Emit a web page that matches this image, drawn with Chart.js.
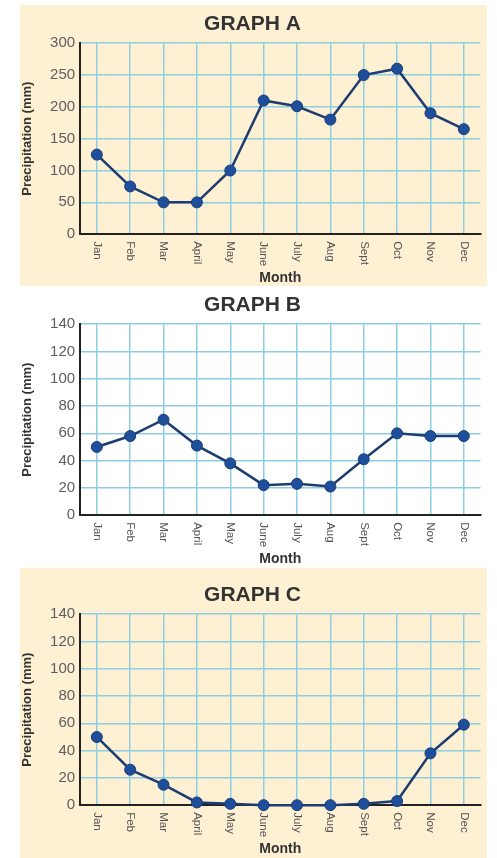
<!DOCTYPE html>
<html>
<head>
<meta charset="utf-8">
<script src="https://cdn.jsdelivr.net/npm/chart.js@4.4.1/dist/chart.umd.min.js"></script>
<style>
  body { margin: 0; background: #fff; width: 497px; height: 858px; position: relative; overflow: hidden; }
  .panel { position: absolute; left: 20px; width: 467px; }
  .panel canvas { position: absolute; left: 0; }
  #panelA { top: 5px; height: 281px; background: #fdf0d3; }
  #panelB { top: 286px; height: 282px; background: #ffffff; }
  #panelC { top: 568px; height: 290px; background: #fdf0d3; }
</style>
</head>
<body>
<div class="panel" id="panelA"><canvas id="chartA" width="467" height="282" style="top:0"></canvas></div>
<div class="panel" id="panelB"><canvas id="chartB" width="467" height="282" style="top:0"></canvas></div>
<div class="panel" id="panelC"><canvas id="chartC" width="467" height="282" style="top:8px"></canvas></div>
<script>
// ---------- Data ----------
const months = ["Jan", "Feb", "Mar", "April", "May", "June", "July", "Aug", "Sept", "Oct", "Nov", "Dec"];
const precipA = [125, 75, 50, 50, 100, 210, 201, 180, 250, 260, 190, 165];
const precipB = [50, 58, 70, 51, 38, 22, 23, 21, 41, 60, 58, 58];
const precipC = [50, 26, 15, 2, 1, 0, 0, 0, 1, 3, 38, 59];

const gridBlue = "#8ecde2";
const lineNavy = "#1d3c70";
const pointBlue = "#1f4e9b";
const fontFamily = "'Liberation Sans', Arial, sans-serif";

// month labels read top-to-bottom, so draw them ourselves at the scale's tick pixels
const clockwiseLabels = {
  id: "clockwiseLabels",
  afterDraw(chart) {
    const scale = chart.scales.x;
    const ctx = chart.ctx;
    ctx.save();
    ctx.font = "11.5px " + fontFamily;
    ctx.fillStyle = "#555";
    ctx.textAlign = "left";
    ctx.textBaseline = "middle";
    scale.ticks.forEach((t, i) => {
      const x = scale.getPixelForTick(i);
      ctx.save();
      ctx.translate(x, scale.top + 7);
      ctx.rotate(Math.PI / 2);
      ctx.fillText(months[i], 0, 0);
      ctx.restore();
    });
    ctx.restore();
  }
};

function makeChart(id, title, values, yMax, yStep) {
  const ctx = document.getElementById(id).getContext("2d");
  return new Chart(ctx, {
    type: "line",
    data: {
      labels: months,
      datasets: [{
        data: values,
        borderColor: lineNavy,
        borderWidth: 2.5,
        backgroundColor: pointBlue,
        pointBackgroundColor: pointBlue,
        pointBorderColor: "#173d7a",
        pointBorderWidth: 1,
        pointRadius: 5.5,
        tension: 0,
        clip: false
      }]
    },
    options: {
      responsive: false,
      animation: false,
      layout: { padding: { left: 0, right: 2, top: 0, bottom: 0 } },
      plugins: {
        legend: { display: false },
        tooltip: { enabled: false },
        title: {
          display: true,
          text: title,
          color: "#333",
          font: { family: fontFamily, size: 21, weight: "bold" },
          padding: { top: 7, bottom: 6 }
        }
      },
      scales: {
        x: {
          offset: true,
          grid: { offset: false, color: gridBlue, lineWidth: 1.5, drawTicks: false },
          border: { color: "#222", width: 2 },
          ticks: {
            color: "transparent",
            font: { family: fontFamily, size: 12 },
            minRotation: 90,
            maxRotation: 90,
            padding: 5
          },
          title: {
            display: true,
            text: "Month",
            color: "#333",
            font: { family: fontFamily, size: 14, weight: "bold" },
            padding: { top: 0, bottom: 0 }
          }
        },
        y: {
          min: 0,
          max: yMax,
          grid: { color: gridBlue, lineWidth: 1.5, drawTicks: false },
          border: { color: "#222", width: 2 },
          ticks: {
            stepSize: yStep,
            color: "#5e5e5e",
            padding: 5,
            font: { family: fontFamily, size: 15 }
          },
          title: {
            display: true,
            text: "Precipitation (mm)",
            color: "#333",
            font: { family: fontFamily, size: 13, weight: "bold" },
            padding: { top: 0, bottom: 9.5 }
          }
        }
      }
    },
    plugins: [clockwiseLabels]
  });
}

document.addEventListener("DOMContentLoaded", () => {
  makeChart("chartA", "GRAPH A", precipA, 300, 50);
  makeChart("chartB", "GRAPH B", precipB, 140, 20);
  makeChart("chartC", "GRAPH C", precipC, 140, 20);
});
</script>
</body>
</html>
